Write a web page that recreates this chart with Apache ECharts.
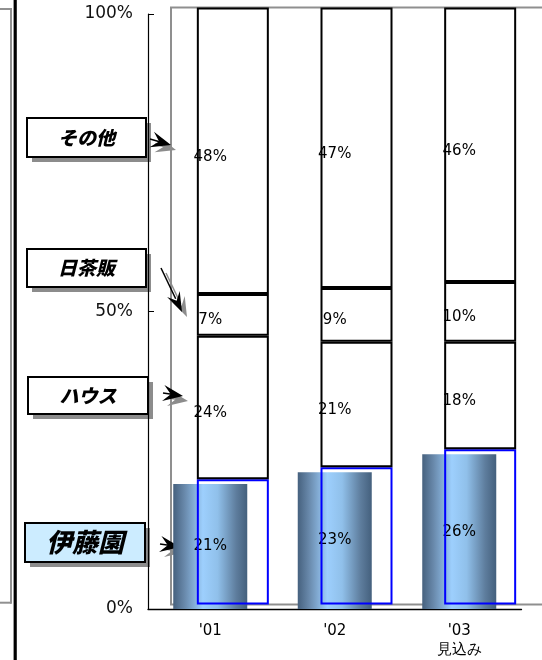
<!DOCTYPE html>
<html>
<head>
<meta charset="utf-8">
<script src="https://cdn.jsdelivr.net/npm/echarts@6/dist/echarts.min.js"></script>
<style>
html,body{margin:0;padding:0;background:#fff;}
#chart{width:542px;height:660px;}
</style>
</head>
<body>
<div id="chart"></div>
<script>
// ---- data ----
const categories = ["'01", "'02", "'03\n見込み"];
const itoen = [21, 23, 26];
const house = [24, 21, 18];
const nichachahan = [7, 9, 10];
const others = [48, 47, 46];
const seriesNames = ['伊藤園', 'ハウス', '日茶販', 'その他'];
const yMin = 0, yMax = 100, yInterval = 50;

// ---- decorations helpers ----
function arrowHead(tx, ty, angDeg, L, W, color) {
  const a = angDeg * Math.PI / 180;
  const ux = Math.cos(a), uy = Math.sin(a);
  const px = -uy, py = ux;
  const bx = tx - ux * L, by = ty - uy * L;
  const nx = tx - ux * L * 0.62, ny = ty - uy * L * 0.62;
  return {
    type: 'polygon',
    shape: { points: [[tx, ty], [bx + px * W, by + py * W], [nx, ny], [bx - px * W, by - py * W]] },
    style: { fill: color }
  };
}
function arrow(x0, y0, tx, ty, L, W, color, lw) {
  const ang = Math.atan2(ty - y0, tx - x0) * 180 / Math.PI;
  return [
    { type: 'line', shape: { x1: x0, y1: y0, x2: tx - (tx - x0) * 0.3, y2: ty - (ty - y0) * 0.3 }, style: { stroke: color, lineWidth: lw } },
    arrowHead(tx, ty, ang, L, W, color)
  ];
}
function arrowWithShadow(x0, y0, tx, ty, L, W, lw) {
  const d = 5;
  return [].concat(
    arrow(x0 + d, y0 + d, tx + d, ty + d, L, W, '#8c8c8c', lw),
    arrow(x0, y0, tx, ty, L, W, '#000', lw)
  );
}
function labelBox(x, y, w, h, text, fill, fontSize) {
  return [
    { type: 'rect', shape: { x: x + 5, y: y + 5, width: w, height: h }, style: { fill: '#8c8c8c' } },
    { type: 'rect', shape: { x: x, y: y, width: w, height: h }, style: { fill: fill, stroke: '#000', lineWidth: 2 } },
    { type: 'text', x: x + w / 2, y: y + h / 2, style: { text: text, fill: '#000', font: 'italic 900 ' + fontSize + 'px "Noto Sans CJK JP"', textAlign: 'center', textVerticalAlign: 'middle' } }
  ];
}

const graphics = [].concat(
  [
    { type: 'line', shape: { x1: 0, y1: 9, x2: 11, y2: 9 }, style: { stroke: '#909090', lineWidth: 2 } },
    { type: 'line', shape: { x1: 0, y1: 602.7, x2: 11, y2: 602.7 }, style: { stroke: '#909090', lineWidth: 2 } },
    { type: 'line', shape: { x1: 11, y1: 8, x2: 11, y2: 603.7 }, style: { stroke: '#909090', lineWidth: 2 } },
    { type: 'line', shape: { x1: 15.2, y1: 0, x2: 15.2, y2: 660 }, style: { stroke: '#000', lineWidth: 3.2 } },
    { type: 'rect', z: -1, shape: { x: 171, y: 7.5, width: 390, height: 597 }, style: { fill: 'none', stroke: '#8f8f8f', lineWidth: 2 } }
  ],
  labelBox(27, 118, 119, 39, 'その他', '#fff', 19),
  labelBox(27, 249, 119, 38, '日茶販', '#fff', 19),
  labelBox(28, 377, 120, 37, 'ハウス', '#fff', 19),
  labelBox(25, 523, 120, 39, '伊藤園', '#CCECFF', 26),
  arrowWithShadow(150, 139, 171, 145, 20, 8, 1.5),
  arrowWithShadow(161, 268, 182, 312, 20, 7, 1.5),
  arrowWithShadow(163, 393, 183, 396, 20, 8, 1.5),
  arrowWithShadow(160, 544, 180, 547, 20, 8, 1.5)
);

const chart = echarts.init(document.getElementById('chart'), null, { renderer: 'canvas' });

const labelStyle = {
  show: true, position: 'inside', formatter: '{c}%', color: '#000',
  fontFamily: 'DejaVu Sans', fontSize: 15
};

const option = {
  animation: false,
  backgroundColor: '#fff',
  grid: [
    { left: 148, top: 14, width: 373.5, height: 596.7, show: false },
    { left: 171, top: 7.5, width: 373.5, height: 597, show: false }
  ],
  xAxis: [
    {
      type: 'category', gridIndex: 0, data: categories,
      axisLine: { lineStyle: { color: '#000', width: 1.3 } },
      axisTick: { inside: true, length: 5, lineStyle: { color: '#000' } },
      axisLabel: { color: '#000', fontFamily: 'DejaVu Sans', fontSize: 15, margin: 13, lineHeight: 19 }
    },
    {
      type: 'category', gridIndex: 1, data: categories, show: false
    }
  ],
  yAxis: [
    {
      type: 'value', gridIndex: 0, min: yMin, max: yMax, interval: yInterval,
      axisLine: { show: true, lineStyle: { color: '#000', width: 1.2 } },
      axisTick: { show: true, inside: true, length: 6, lineStyle: { color: '#000' } },
      splitLine: { show: false },
      axisLabel: { formatter: '{value}%', color: '#111', fontFamily: 'DejaVu Sans', fontSize: 17, margin: 15 }
    },
    { type: 'value', gridIndex: 1, min: yMin, max: yMax, show: false, splitLine: { show: false } }
  ],
  series: [
    {
      name: seriesNames[0] + 'グラデーション', type: 'bar', xAxisIndex: 0, yAxisIndex: 0,
      data: itoen, barWidth: 74, barGap: '-100%', z: 1,
      itemStyle: {
        color: new echarts.graphic.LinearGradient(0, 0, 1, 0, [
          { offset: 0, color: '#46617E' },
          { offset: 0.15, color: '#6888AA' },
          { offset: 0.4, color: '#9DCFFD' },
          { offset: 0.6, color: '#90C0EA' },
          { offset: 0.85, color: '#5E7D9D' },
          { offset: 1, color: '#44607D' }
        ])
      }
    },
    // label-only stack on black axes
    { name: seriesNames[0], type: 'bar', stack: 'lbl', xAxisIndex: 0, yAxisIndex: 0, data: itoen, barWidth: 74, barGap: '-100%', z: 2, itemStyle: { color: 'transparent' }, label: labelStyle },
    { name: seriesNames[1], type: 'bar', stack: 'lbl', xAxisIndex: 0, yAxisIndex: 0, data: house, barWidth: 74, barGap: '-100%', z: 2, itemStyle: { color: 'transparent' }, label: labelStyle },
    { name: seriesNames[2], type: 'bar', stack: 'lbl', xAxisIndex: 0, yAxisIndex: 0, data: nichachahan, barWidth: 74, barGap: '-100%', z: 2, itemStyle: { color: 'transparent' }, label: labelStyle },
    { name: seriesNames[3], type: 'bar', stack: 'lbl', xAxisIndex: 0, yAxisIndex: 0, data: others, barWidth: 74, barGap: '-100%', z: 2, itemStyle: { color: 'transparent' }, label: labelStyle },
    // outlined 100% stacked bars on grey frame
    { name: seriesNames[0] + '枠', type: 'bar', stack: 'box', xAxisIndex: 1, yAxisIndex: 1, data: itoen, barWidth: 72, z: 3, itemStyle: { color: 'transparent', borderColor: '#0000FF', borderWidth: 2 } },
    { name: seriesNames[1] + '枠', type: 'bar', stack: 'box', xAxisIndex: 1, yAxisIndex: 1, data: house, barWidth: 72, z: 3, itemStyle: { color: 'transparent', borderColor: '#000', borderWidth: 2 } },
    { name: seriesNames[2] + '枠', type: 'bar', stack: 'box', xAxisIndex: 1, yAxisIndex: 1, data: nichachahan, barWidth: 72, z: 3, itemStyle: { color: 'transparent', borderColor: '#000', borderWidth: 2 } },
    { name: seriesNames[3] + '枠', type: 'bar', stack: 'box', xAxisIndex: 1, yAxisIndex: 1, data: others, barWidth: 72, z: 3, itemStyle: { color: 'transparent', borderColor: '#000', borderWidth: 2 } }
  ],
  graphic: graphics
};
chart.setOption(option);
</script>
</body>
</html>
